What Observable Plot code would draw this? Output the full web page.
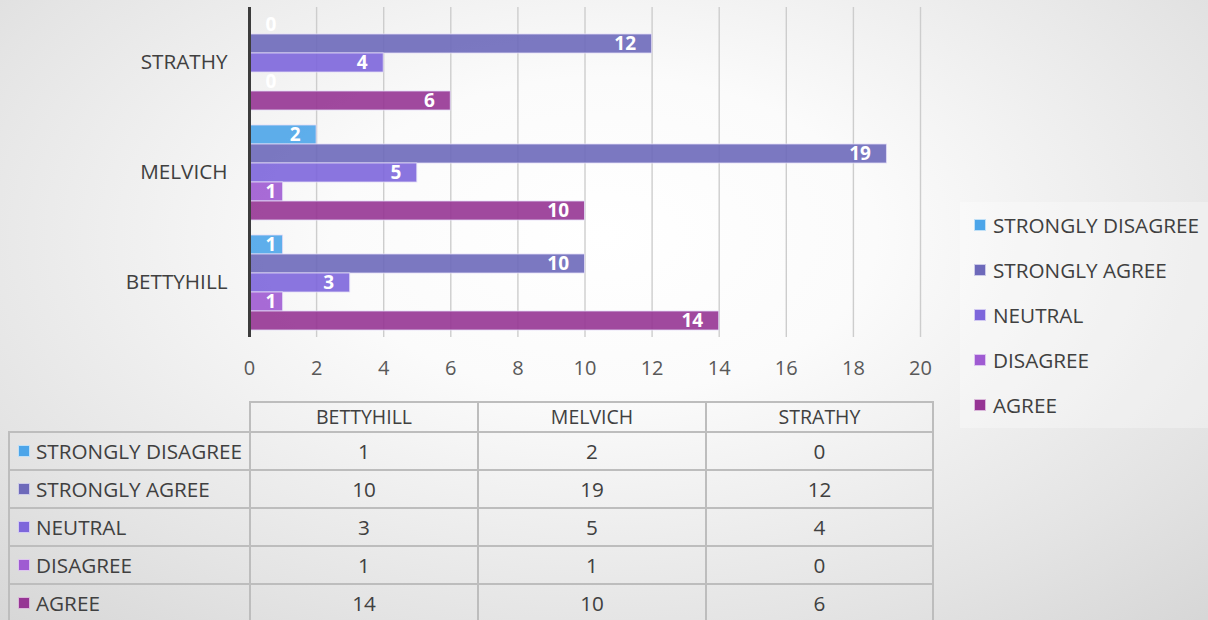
<!DOCTYPE html>
<html>
<head>
<meta charset="utf-8">
<script src="https://cdn.jsdelivr.net/npm/d3@7"></script>
<script src="https://cdn.jsdelivr.net/npm/@observablehq/plot@0.6"></script>
<style>
  html, body { margin: 0; padding: 0; }
  #root {
    position: relative; width: 1208px; height: 620px; overflow: hidden;
    font-family: "Open Sans", sans-serif; color: #404040;
    background: radial-gradient(ellipse 75% 85% at 50% 38%, #ffffff 0%, #fbfbfb 30%, #e4e4e4 75%, #d6d6d6 100%);
  }
  #chart { position: absolute; left: 0; top: 0; }
  #legend {
    position: absolute; left: 960px; top: 202px; width: 248px; height: 226px;
    background: rgba(255,255,255,0.3); box-sizing: border-box; padding-top: 0.5px;
  }
  .lg-item { height: 45px; display: flex; align-items: center; font-size: 20.7px; padding-left: 14px; white-space: nowrap; }
  .sw { width: 10px; height: 10px; border: 1px solid rgba(255,255,255,0.65); margin-right: 7px; flex: none; }
  #tbl {
    position: absolute; left: 8px; top: 401px; border-collapse: collapse; table-layout: fixed;
    font-size: 20.7px; color: #404040;
  }
  #tbl td { border: 2px solid #bdbdbd; padding: 0; text-align: center; white-space: nowrap; line-height: 1; }
  #tbl tr.head td { height: 28px; font-size: 19.5px; }
  #tbl tr.row td { height: 36px; }
  #tbl td.corner { border-top: none; border-left: none; }
  #tbl td.rl { text-align: left; padding-left: 8px; }
  #tbl td.rl .in { display: flex; align-items: center; }
  #tbl td.rl .sw { margin-right: 6px; }
</style>
</head>
<body>
<div id="root">
  <div id="chart"></div>
  <div id="legend"></div>
  <table id="tbl"></table>
</div>
<script>
// ---- data ----
const towns = ["BETTYHILL", "MELVICH", "STRATHY"];
const categories = ["STRONGLY DISAGREE", "STRONGLY AGREE", "NEUTRAL", "DISAGREE", "AGREE"];
const stronglyDisagree = [1, 2, 0];
const stronglyAgree = [10, 19, 12];
const neutral = [3, 5, 4];
const disagree = [1, 1, 0];
const agree = [14, 10, 6];
const xTicks = [0, 2, 4, 6, 8, 10, 12, 14, 16, 18, 20];
const colors = ["#4ca5e9", "#6d69ba", "#7d66db", "#9f5bd2", "#963594"];

const series = [stronglyDisagree, stronglyAgree, neutral, disagree, agree];
const data = [];
towns.forEach((t, i) => categories.forEach((c, j) => data.push({town: t, category: c, value: series[j][i]})));
const chartOrder = towns.slice().reverse();

const chart = Plot.plot({
  width: 960,
  height: 395,
  marginLeft: 249,
  marginRight: 40,
  marginTop: 7,
  marginBottom: 58,
  style: {fontFamily: "Open Sans, sans-serif", background: "transparent", overflow: "visible"},
  x: {domain: [0, 20], axis: null},
  y: {domain: categories, axis: null, paddingInner: 0, paddingOuter: 0.365},
  fy: {domain: chartOrder, paddingInner: 0, paddingOuter: 0, axis: null, label: null},
  color: {domain: categories, range: colors},
  marks: [
    Plot.gridX(xTicks, {stroke: "#cdcdcd", strokeOpacity: 1, strokeWidth: 1.4}),
    Plot.barX(data, {x: "value", y: "category", fy: "town", fill: "category", fillOpacity: 0.9,
      stroke: "#e2dcf6", strokeOpacity: 0.8, strokeWidth: 1}),
    Plot.ruleX([0], {stroke: "#3c3c3c", strokeWidth: 3}),
    Plot.text(data.filter(d => d.value > 1), {x: "value", y: "category", fy: "town", text: d => String(d.value),
      textAnchor: "end", dx: -16, fill: "white", fontWeight: "bold", fontSize: 19}),
    Plot.text(data.filter(d => d.value <= 1), {x: d => 0, y: "category", fy: "town", text: d => String(d.value),
      textAnchor: "start", dx: 16, fill: "white", fontWeight: "bold", fontSize: 19}),
    Plot.axisX(xTicks, {anchor: "bottom", tickSize: 0, tickPadding: 23, fontSize: 20, fill: "#595959", label: null}),
    Plot.axisFy({anchor: "left", tickSize: 0, tickPadding: 22, fontSize: 20.7, fill: "#404040", label: null})
  ]
});
document.getElementById("chart").appendChild(chart);

// ---- legend ----
const legend = document.getElementById("legend");
categories.forEach((c, j) => {
  const it = document.createElement("div");
  it.className = "lg-item";
  it.innerHTML = `<span class="sw" style="background:${colors[j]}"></span><span>${c}</span>`;
  legend.appendChild(it);
});

// ---- table ----
const tbl = document.getElementById("tbl");
const cg = document.createElement("colgroup");
[241, 228, 228, 227].forEach(w => { const col = document.createElement("col"); col.style.width = w + "px"; cg.appendChild(col); });
tbl.appendChild(cg);
const head = document.createElement("tr");
head.className = "head";
head.innerHTML = `<td class="corner"></td>` + towns.map(t => `<td>${t}</td>`).join("");
tbl.appendChild(head);
categories.forEach((c, j) => {
  const tr = document.createElement("tr");
  tr.className = "row";
  tr.innerHTML = `<td class="rl"><div class="in"><span class="sw" style="background:${colors[j]}"></span><span>${c}</span></div></td>` +
    series[j].map(v => `<td>${v}</td>`).join("");
  tbl.appendChild(tr);
});
</script>
</body>
</html>
